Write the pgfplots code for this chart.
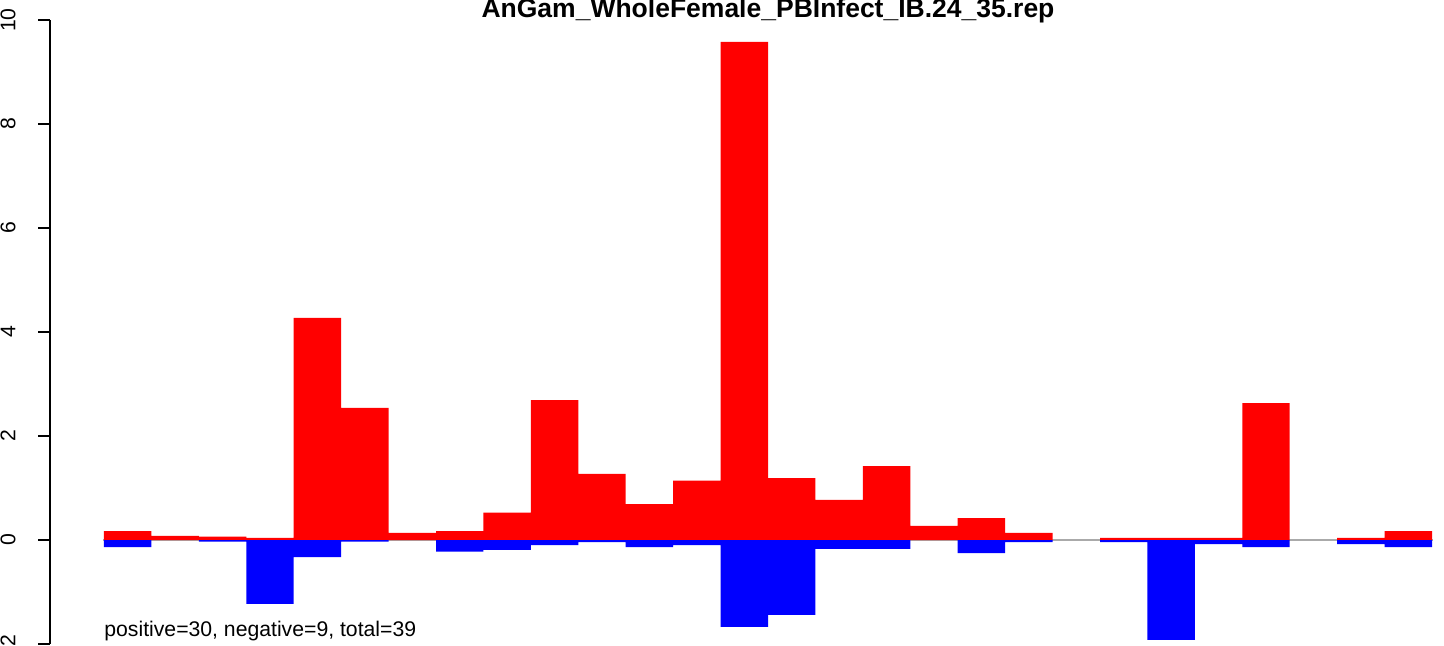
\documentclass[border=0pt]{standalone}
\usepackage{fontspec}
\setmainfont{Liberation Sans}
\usepackage{pgfplots}
\pgfplotsset{compat=1.18}
\definecolor{zgray}{HTML}{AAAAAA}
\begin{document}
\begin{tikzpicture}
\begin{axis}[
  at={(0,0)}, anchor=south west,
  scale only axis,
  width=690.75pt, height=312pt,
  xmin=-1.128, xmax=28, ymin=-2, ymax=10,
  axis x line=none,
  axis y line=left,
  axis line style={line width=1pt, -},
  xtick=\empty,
  ytick={-2,0,2,4,6,8,10},
  yticklabels={-2,0,2,4,6,8,10},
  tick align=outside,
  major tick length=6pt,
  every tick/.style={black, line width=1pt},
  yticklabel style={xshift=-11.5pt, rotate=90, anchor=base, inner sep=0pt, font=\fontsize{10.6}{12}\selectfont},
  clip=false,
]
\addplot[zgray, line width=1pt] coordinates {(-0.02,0) (28.02,0)};
\addplot[ybar, bar width=1, bar shift=0pt, fill=red, draw=none] coordinates {
(0.5,0.17) (1.5,0.08) (2.5,0.065) (3.5,0.04) (4.5,4.27) (5.5,2.54) (6.5,0.135)
(7.5,0.17) (8.5,0.525) (9.5,2.69) (10.5,1.27) (11.5,0.69) (12.5,1.14) (13.5,9.58)
(14.5,1.19) (15.5,0.77) (16.5,1.42) (17.5,0.27) (18.5,0.42) (19.5,0.135)
(21.5,0.04) (22.5,0.04) (23.5,0.04) (24.5,2.63) (26.5,0.04) (27.5,0.17)
};
\addplot[ybar, bar width=1, bar shift=0pt, fill=blue, draw=none] coordinates {
(0.5,-0.135) (2.5,-0.03) (3.5,-1.23) (4.5,-0.33) (5.5,-0.03) (7.5,-0.225)
(8.5,-0.19) (9.5,-0.1) (10.5,-0.04) (11.5,-0.135) (12.5,-0.1) (13.5,-1.67)
(14.5,-1.44) (15.5,-0.17) (16.5,-0.17) (18.5,-0.25) (19.5,-0.04)
(21.5,-0.04) (22.5,-1.92) (23.5,-0.08) (24.5,-0.135) (26.5,-0.08) (27.5,-0.135)
};
\node[anchor=base west, inner sep=0pt, font=\fontsize{10.6}{12}\selectfont] at (axis cs:0,-1.865) {positive=30, negative=9, total=39};
\end{axis}
\node[anchor=base, inner sep=0pt, font=\bfseries\fontsize{13.25}{15}\selectfont] at (358.75pt,313.5pt) {AnGam\_WholeFemale\_PBInfect\_IB.24\_35.rep};
\pgfresetboundingbox
\path[use as bounding box] (-25.25pt,-0.5pt) rectangle (696.75pt,322pt);
\end{tikzpicture}
\end{document}
